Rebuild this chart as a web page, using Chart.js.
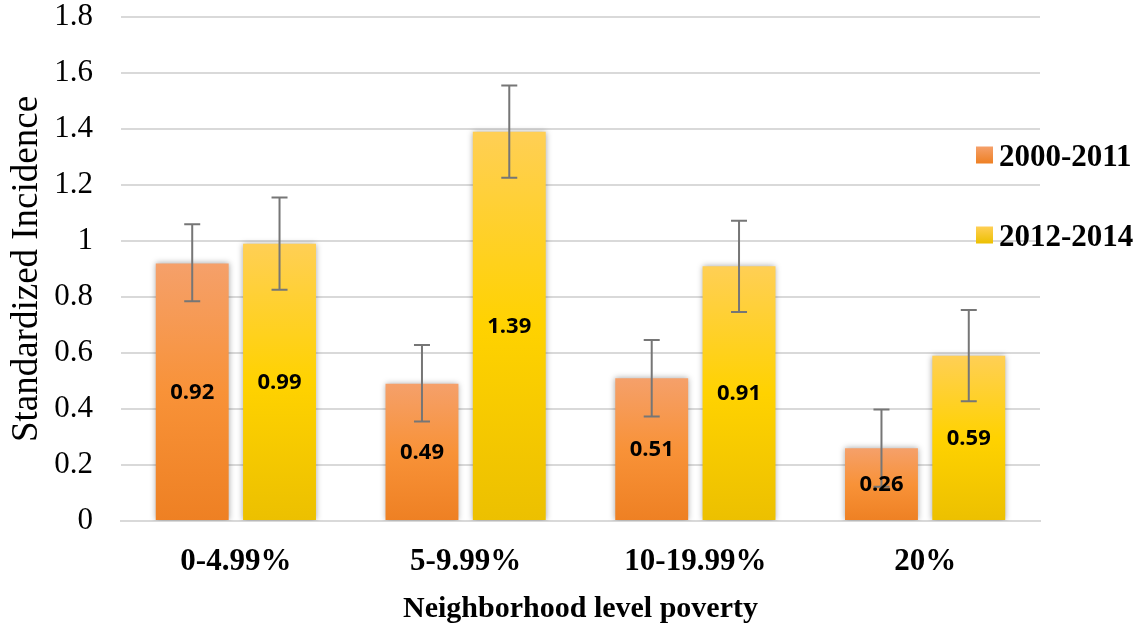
<!DOCTYPE html>
<html>
<head>
<meta charset="utf-8">
<script src="https://cdn.jsdelivr.net/npm/chart.js@4.4.1/dist/chart.umd.min.js"></script>
<style>
  html, body { margin: 0; padding: 0; background: #fff; }
  #wrap { width: 1146px; height: 631px; position: relative; }
</style>
</head>
<body>
<div id="wrap"><canvas id="incidenceChart"></canvas></div>
<script>
const categories = ['0-4.99%', '5-9.99%', '10-19.99%', '20%'];
const seriesNames = ['2000-2011', '2012-2014'];

const values2000 = [0.92, 0.49, 0.51, 0.26];
const values2012 = [0.99, 1.39, 0.91, 0.59];

// error bar ends
const lower2000 = [0.785, 0.355, 0.373, 0.122];
const upper2000 = [1.06, 0.629, 0.646, 0.398];
const lower2012 = [0.826, 1.226, 0.746, 0.428];
const upper2012 = [1.155, 1.555, 1.072, 0.754];

const yTickValues = [0, 0.2, 0.4, 0.6, 0.8, 1, 1.2, 1.4, 1.6, 1.8];

const orangeStops = ['#F5A06A', '#F89238', '#EE8023'];
const yellowStops = ['#FFCF55', '#FFD200', '#ECC000'];

const serif = '"Liberation Serif", "Times New Roman", serif';

function barGradient(context, stops) {
  const chart = context.chart;
  if (!chart.chartArea || context.type !== 'data') return stops[1];
  const y = chart.scales.y;
  const top = y.getPixelForValue(context.raw);
  const bottom = y.getPixelForValue(0);
  const g = chart.ctx.createLinearGradient(0, top, 0, bottom);
  g.addColorStop(0, stops[0]);
  g.addColorStop(0.5, stops[1]);
  g.addColorStop(1, stops[2]);
  return g;
}

const barShadow = {
  id: 'barShadow',
  beforeDatasetsDraw(chart) {
    const ctx = chart.ctx;
    ctx.save();
    ctx.shadowColor = 'rgba(0,0,0,0.35)';
    ctx.shadowBlur = 6;
    ctx.shadowOffsetX = 0;
    ctx.shadowOffsetY = 0;
  },
  afterDatasetsDraw(chart) {
    chart.ctx.restore();
  }
};

const errorBarsAndLabels = {
  id: 'errorBarsAndLabels',
  afterDatasetsDraw(chart) {
    const ctx = chart.ctx;
    const y = chart.scales.y;
    const ranges = [[lower2000, upper2000], [lower2012, upper2012]];
    const values = [values2000, values2012];

    ctx.save();
    ctx.strokeStyle = '#767676';
    ctx.lineWidth = 2;
    ranges.forEach((pair, di) => {
      chart.getDatasetMeta(di).data.forEach((bar, i) => {
        const x = bar.x;
        const yl = y.getPixelForValue(pair[0][i]);
        const yu = y.getPixelForValue(pair[1][i]);
        ctx.beginPath();
        ctx.moveTo(x, yu); ctx.lineTo(x, yl);
        ctx.moveTo(x - 8, yu); ctx.lineTo(x + 8, yu);
        ctx.moveTo(x - 8, yl); ctx.lineTo(x + 8, yl);
        ctx.stroke();
      });
    });

    ctx.fillStyle = '#000';
    ctx.font = 'bold 22px "Open Sans", "Noto Sans", sans-serif';
    ctx.textAlign = 'center';
    ctx.textBaseline = 'middle';
    values.forEach((vals, di) => {
      chart.getDatasetMeta(di).data.forEach((bar, i) => {
        const mid = (bar.y + bar.base) / 2;
        ctx.fillText(vals[i].toFixed(2), bar.x, mid + 1);
      });
    });
    ctx.restore();
  }
};

const sideLegend = {
  id: 'sideLegend',
  afterDraw(chart) {
    const ctx = chart.ctx;
    const items = [
      { name: seriesNames[0], stops: orangeStops, cy: 155 },
      { name: seriesNames[1], stops: yellowStops, cy: 235 }
    ];
    ctx.save();
    items.forEach(item => {
      const top = item.cy - 8.5;
      const g = ctx.createLinearGradient(0, top, 0, top + 17);
      g.addColorStop(0, item.stops[0]);
      g.addColorStop(1, item.stops[2]);
      ctx.fillStyle = g;
      ctx.fillRect(976, top, 17, 17);
      ctx.fillStyle = '#000';
      ctx.font = 'bold 31px ' + serif;
      ctx.textAlign = 'left';
      ctx.textBaseline = 'middle';
      ctx.fillText(item.name, 999, item.cy + 3);
    });
    ctx.restore();
  }
};

const ctx = document.getElementById('incidenceChart').getContext('2d');

new Chart(ctx, {
  type: 'bar',
  data: {
    labels: categories,
    datasets: [
      {
        label: seriesNames[0],
        data: values2000,
        backgroundColor: c => barGradient(c, orangeStops),
        categoryPercentage: 0.76,
        barPercentage: 0.835
      },
      {
        label: seriesNames[1],
        data: values2012,
        backgroundColor: c => barGradient(c, yellowStops),
        categoryPercentage: 0.76,
        barPercentage: 0.835
      }
    ]
  },
  options: {
    responsive: true,
    maintainAspectRatio: false,
    animation: false,
    layout: { padding: { left: 2, right: 106, top: 0, bottom: 0 } },
    plugins: {
      legend: { display: false },
      tooltip: { enabled: false }
    },
    scales: {
      x: {
        grid: { display: false, drawTicks: false },
        border: { display: true, color: '#d9d9d9', width: 2 },
        ticks: {
          color: '#000',
          padding: 22,
          maxRotation: 0,
          font: { family: serif, size: 31, weight: 'bold' }
        },
        title: {
          display: true,
          text: 'Neighborhood level poverty',
          color: '#000',
          padding: { top: 8, bottom: 4 },
          font: { family: serif, size: 30, weight: 'bold' }
        },
        afterFit: axis => {
          axis.height = 110;
          axis.paddingLeft = 0;
          axis.paddingRight = 0;
        }
      },
      y: {
        min: 0,
        max: 1.8,
        afterBuildTicks: axis => {
          axis.ticks = yTickValues.map(v => ({ value: v }));
        },
        grid: { color: '#d9d9d9', lineWidth: 2, drawTicks: false },
        border: { display: false },
        ticks: {
          color: '#000',
          padding: 28,
          font: { family: serif, size: 31 },
          callback: v => String(+v.toFixed(1))
        },
        title: {
          display: true,
          text: 'Standardized Incidence',
          color: '#000',
          padding: { top: 3, bottom: 4 },
          font: { family: serif, size: 37 }
        },
        afterFit: axis => {
          axis.width = 119;
          axis.paddingTop = 17;
          axis.paddingBottom = 0;
        }
      }
    }
  },
  plugins: [barShadow, errorBarsAndLabels, sideLegend]
});
</script>
</body>
</html>
